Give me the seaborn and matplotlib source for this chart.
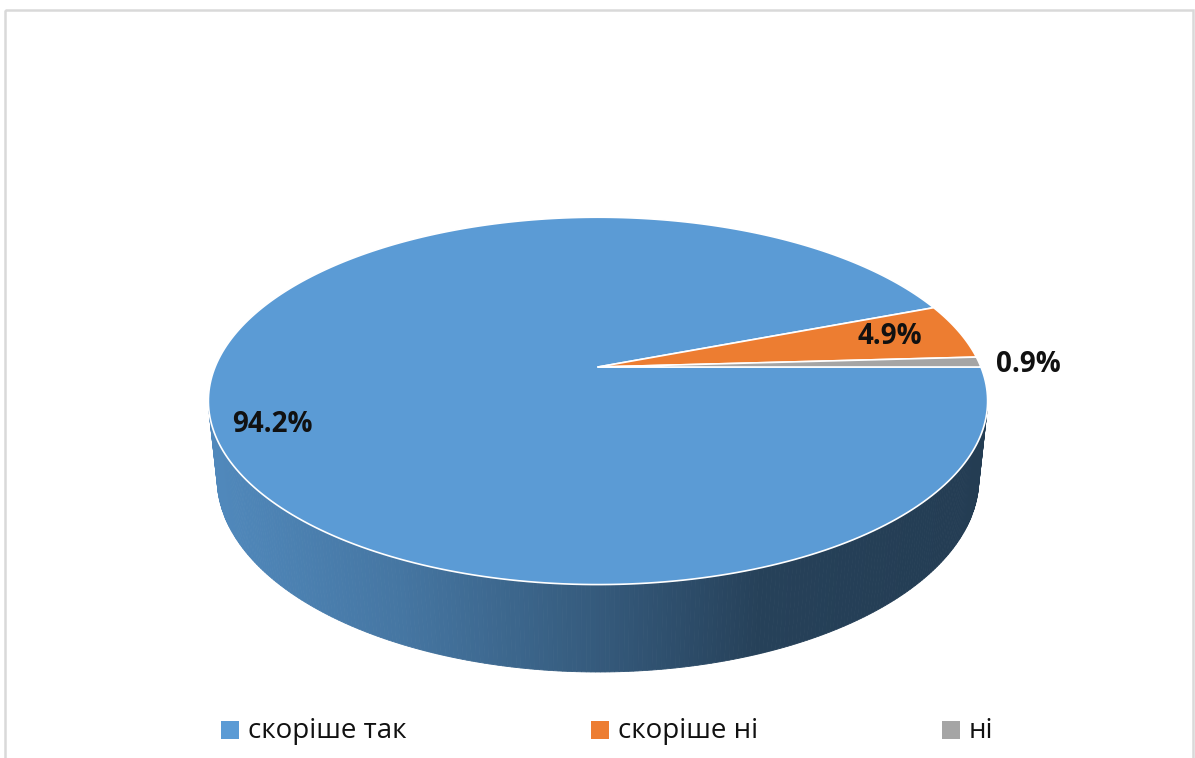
import numpy as np
import matplotlib
matplotlib.use("Agg")
import matplotlib.pyplot as plt
import seaborn as sns
from matplotlib.patches import Polygon, Rectangle
from matplotlib.colors import to_rgb

# data
labels = ["скоріше так", "скоріше ні", "ні"]
values = [94.2, 4.9, 0.9]
pct_text = ["94.2%", "4.9%", "0.9%"]
colors = sns.color_palette(["#5B9BD5", "#ED7D31", "#A5A5A5"])

sns.set_style("white")
plt.rcParams["font.family"] = ["Open Sans", "DejaVu Sans"]

W, H = 1195, 758
fig = plt.figure(figsize=(W / 100, H / 100), dpi=100)
ax = fig.add_axes([0, 0, 1, 1])
ax.set_xlim(0, W)
ax.set_ylim(H, 0)
ax.axis("off")

# simple perspective camera for the 3d look
CX, CY = 598, 367
phi = np.radians(27.6)
cph, sph = np.cos(phi), np.sin(phi)
DIST = 4.80
FOC = 1838
DEPTH = 0.23


def project(x, y, z):
    d = DIST + y * cph - z * sph
    return CX + FOC * x / d, CY - FOC * (y * sph + z * cph) / d


fracs = np.array(values) / np.sum(values)
cum = np.concatenate([[0], np.cumsum(fracs)])
bounds = -cum * 2 * np.pi  # clockwise from 3 o'clock


def slice_of(theta):
    p = ((-theta) % (2 * np.pi)) / (2 * np.pi)
    return min(np.searchsorted(cum, p, side="right") - 1, len(values) - 1)


# side wall, only the part facing the camera
t_off = np.arcsin(1 / (DIST * cph))
thetas = np.linspace(np.pi + t_off, 2 * np.pi - t_off, 260)
shade_x = [215, 400, 600, 760, 990]
shade_v = [0.88, 0.76, 0.58, 0.42, 0.39]
for a, b in zip(thetas[:-1], thetas[1:]):
    xa, ya = project(np.cos(a), np.sin(a), 0)
    xb, yb = project(np.cos(b), np.sin(b), 0)
    xb2, yb2 = project(np.cos(b), np.sin(b), -DEPTH)
    xa2, ya2 = project(np.cos(a), np.sin(a), -DEPTH)
    base = np.array(to_rgb(colors[slice_of((a + b) / 2)]))
    col = np.clip(base * np.interp((xa + xb) / 2, shade_x, shade_v), 0, 1)
    ax.add_patch(Polygon([(xa, ya), (xb, yb), (xb2, yb2), (xa2, ya2)],
                         closed=True, facecolor=col, edgecolor=col, lw=0.6))

# top faces
for i in range(len(values)):
    t = np.linspace(bounds[i], bounds[i + 1], 300)
    px, py = project(np.cos(t), np.sin(t), 0 * t)
    pts = [(CX, CY)] + list(zip(px, py))
    ax.add_patch(Polygon(pts, closed=True, facecolor=colors[i],
                         edgecolor="white", lw=1.2, joinstyle="round"))

# data labels
label_pos = [(272, 425), (890, 336), (1028, 365)]
for (lx, ly), txt in zip(label_pos, pct_text):
    ax.text(lx, ly, txt, ha="center", va="center", fontsize=20,
            fontweight="bold", color="#111111")

# legend
leg_x = [221, 591, 942]
leg_y = 730
for x0, lab, col in zip(leg_x, labels, colors):
    ax.add_patch(Rectangle((x0, leg_y - 9), 18, 18, facecolor=col, edgecolor="none"))
    ax.text(x0 + 27, leg_y + 1, lab, ha="left", va="center", fontsize=20,
            color="#111111")

# chart border
ax.add_patch(Rectangle((5.5, 10), 1188, 760, facecolor="none",
                       edgecolor="#d9d9d9", lw=1.8))

fig.savefig("out.png", dpi=100)
